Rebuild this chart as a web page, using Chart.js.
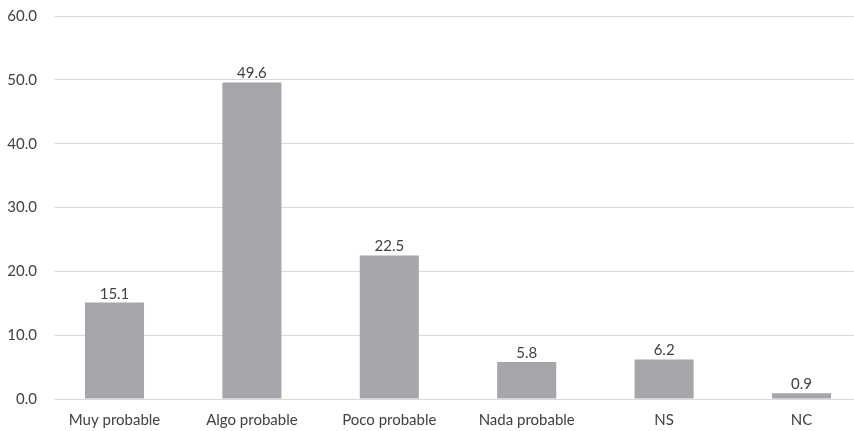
<!DOCTYPE html>
<html>
<head>
<meta charset="utf-8">
<script src="https://cdn.jsdelivr.net/npm/chart.js@4"></script>
<style>
    html, body { margin: 0; padding: 0; background: #ffffff; }
    .chart-wrapper { position: relative; width: 854px; height: 431px; }
</style>
</head>
<body>
<div class="chart-wrapper"><canvas id="chart"></canvas></div>
<script>
const categories = ['Muy probable', 'Algo probable', 'Poco probable', 'Nada probable', 'NS', 'NC'];
const values = [15.1, 49.6, 22.5, 5.8, 6.2, 0.9];
const yTicks = [0, 10, 20, 30, 40, 50, 60];

const textColor = '#404040';
const fontFamily = 'Lato, "Noto Sans", sans-serif';

// value labels above each bar
const barLabels = {
    id: 'barLabels',
    afterDatasetsDraw(chart) {
        const ctx = chart.ctx;
        const meta = chart.getDatasetMeta(0);
        ctx.save();
        ctx.font = '15px ' + fontFamily;
        ctx.fillStyle = textColor;
        ctx.textAlign = 'center';
        ctx.textBaseline = 'alphabetic';
        meta.data.forEach((bar, i) => {
            ctx.fillText(values[i].toFixed(1), bar.x, bar.y - 4);
        });
        ctx.restore();
    }
};

new Chart(document.getElementById('chart'), {
    type: 'bar',
    data: {
        datasets: [{
            data: values.map((v, i) => ({ x: i, y: v })),
            backgroundColor: '#a6a6aa',
            borderWidth: 0,
            barPercentage: 0.43,
            categoryPercentage: 1,
        }],
    },
    options: {
        responsive: true,
        maintainAspectRatio: false,
        animation: false,
        layout: { padding: { top: 16, right: 0, bottom: 2, left: 0 } },
        plugins: {
            legend: { display: false },
            tooltip: { enabled: false },
        },
        scales: {
            x: {
                type: 'linear',
                offset: false,
                min: -0.433,
                max: 5.382,
                afterFit: (scale) => { scale.height = 30; },
                grid: { display: false, drawTicks: false, offset: false },
                border: { display: false },
                ticks: {
                    stepSize: 1,
                    includeBounds: false,
                    autoSkip: false,
                    maxRotation: 0,
                    padding: 12,
                    color: textColor,
                    font: { family: fontFamily, size: 15 },
                    callback: (v) => categories[v] !== undefined ? categories[v] : '',
                },
            },
            y: {
                min: 0,
                max: 60,
                afterFit: (scale) => {
                    scale.width = 55;
                    scale.paddingTop = 0;
                    scale.paddingBottom = 0;
                },
                afterBuildTicks: (scale) => { scale.ticks = yTicks.map(v => ({ value: v })); },
                grid: { color: '#d9d9d9', drawTicks: false },
                border: { display: false },
                ticks: {
                    padding: 18,
                    color: textColor,
                    font: { family: fontFamily, size: 15 },
                    callback: (v) => v.toFixed(1),
                },
            },
        },
    },
    plugins: [barLabels],
});
</script>
</body>
</html>
